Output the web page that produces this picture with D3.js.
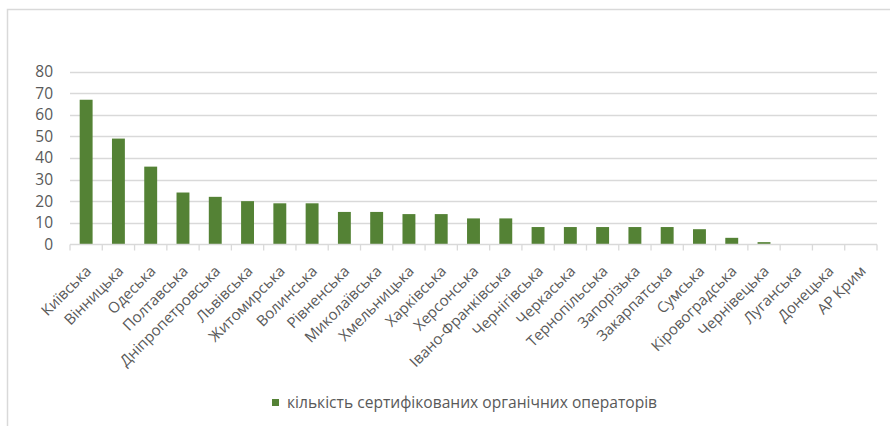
<!DOCTYPE html>
<html><head><meta charset="utf-8">
<script src="https://cdn.jsdelivr.net/npm/d3@7"></script>
<style>body{margin:0;background:#fff;} svg{display:block;}</style>
</head><body>
<svg id="c" width="890" height="426"></svg>
<script>
const categories = ["Київська","Вінницька","Одеська","Полтавська","Дніпропетровська","Львівська","Житомирська","Волинська","Рівненська","Миколаївська","Хмельницька","Харківська","Херсонська","Івано-Франківська","Чернігівська","Черкаська","Тернопільська","Запорізька","Закарпатська","Сумська","Кіровоградська","Чернівецька","Луганська","Донецька","АР Крим"];
const values = [67,49,36,24,22,20,19,19,15,15,14,14,12,12,8,8,8,8,8,7,3,1,0,0,0];
const yTicks = [0,10,20,30,40,50,60,70,80];
const seriesName = "кількість сертифікованих органічних операторів";

const svg = d3.select("#c");
const font = "'Open Sans', 'Noto Sans', sans-serif";
const grey = "#595959", gridC = "#d9d9d9", barC = "#548235";

// outer frame
svg.append("path").attr("d","M7.5,426 V9.5 H890").attr("fill","none").attr("stroke","#d9d9d9").attr("stroke-width",1.5);

const x = d3.scaleBand().domain(categories).range([70, 877]).paddingInner(0.6).paddingOuter(0.3);
const y = d3.scaleLinear().domain([0, 80]).range([244.3, 71.7]);

// gridlines
svg.append("g").selectAll("line").data(yTicks.filter(d=>d>0)).join("line")
  .attr("x1",70).attr("x2",877).attr("y1",d=>Math.round(y(d))+0.5).attr("y2",d=>Math.round(y(d))+0.5)
  .attr("stroke",gridC).attr("stroke-width",1.3);

// y labels
const yAxis = d3.axisLeft(y).tickValues(yTicks).tickSize(0).tickPadding(0);
const ga = svg.append("g").attr("transform","translate(53,0)").call(yAxis);
ga.select(".domain").remove();
ga.selectAll("text").attr("fill",grey).style("font-family",font).style("font-size","15.5px");

// bars
svg.append("g").selectAll("rect").data(values).join("rect")
  .attr("x",(d,i)=>x(categories[i])).attr("width",x.bandwidth())
  .attr("y",d=>y(d)).attr("height",d=>y(0)-y(d)).attr("fill",barC);

// baseline and ticks
const b = svg.append("g");
b.append("line").attr("x1",70).attr("x2",877).attr("y1",244.5).attr("y2",244.5).attr("stroke",gridC).attr("stroke-width",1.3);
const bounds = d3.range(categories.length+1).map(i=>70 + i*(807/categories.length));
b.selectAll(".t").data(bounds).join("line").attr("class","t")
  .attr("x1",d=>d).attr("x2",d=>d).attr("y1",244.5).attr("y2",250.5).attr("stroke",gridC).attr("stroke-width",1.3);

// category labels
svg.append("g").selectAll("text").data(categories).join("text")
  .attr("transform",d=>`translate(${x(d)+x.bandwidth()/2+6},272) rotate(-45)`)
  .attr("text-anchor","end")
  .attr("fill",grey).style("font-family",font).style("font-size","15px")
  .text(d=>d);

// legend
const lg = svg.append("g");
lg.append("rect").attr("x",272).attr("y",399).attr("width",7).attr("height",7).attr("fill",barC);
lg.append("text").attr("x",287).attr("y",403).attr("dy","0.35em").attr("fill",grey)
  .style("font-family",font).style("font-size","15.6px").text(seriesName);
</script>
</body></html>
